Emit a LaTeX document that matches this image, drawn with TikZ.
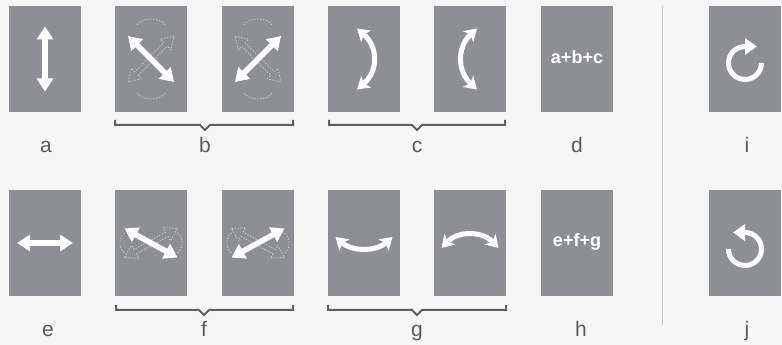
\documentclass[tikz,border=0pt]{standalone}
\usepackage{fontspec}
\setmainfont{Liberation Sans}
\usetikzlibrary{arrows.meta}
\definecolor{bgcol}{RGB}{245,246,245}
\definecolor{panelcol}{RGB}{142,143,147}
\definecolor{labelcol}{RGB}{90,90,90}
\definecolor{bracecol}{RGB}{95,95,95}
\definecolor{ghostcol}{RGB}{210,210,210}
\definecolor{sepcol}{RGB}{205,205,205}
\tikzset{
  panel/.style={fill=panelcol, minimum width=72pt, minimum height=106pt, inner sep=0pt},
  caption/.style={text=labelcol, font=\fontsize{21}{21}\selectfont, anchor=base, inner sep=0pt},
  sumtext/.style={text=white, font=\bfseries\fontsize{18}{18}\selectfont, anchor=base, inner sep=0pt},
  bigarrow/.style={white, line width=5.5pt, arrows={Triangle[width=16pt,length=13pt]-Triangle[width=16pt,length=13pt]}},
  bendarrow/.style={white, line width=5pt, arrows={Stealth[width=15pt,length=12pt,inset=3pt]-Stealth[width=15pt,length=12pt,inset=3pt]}},
  turnarrow/.style={white, line width=5pt, arrows={-Triangle[width=16pt,length=12pt]}},
  ghostline/.style={ghostcol, line width=0.6pt, dash pattern=on 1.5pt off 1.5pt},
  brace/.style={bracecol, line width=2pt},
}
\newcommand{\ghostarrow}[2]{%
  \draw[ghostline,rotate=#1] (-#2,0) -- (-#2+12,7.5) -- (-#2+12,2.5) -- (#2-12,2.5) -- (#2-12,7.5) -- (#2,0)
    -- (#2-12,-7.5) -- (#2-12,-2.5) -- (-#2+12,-2.5) -- (-#2+12,-7.5) -- cycle;}
\begin{document}
\begin{tikzpicture}[x=1pt,y=1pt]
  \useasboundingbox[fill=bgcol] (0,0) rectangle (782,345);

  \node[panel] (pa) at (45,286) {};
  \node[panel] (pb1) at (151,286) {};
  \node[panel] (pb2) at (258,286) {};
  \node[panel] (pc1) at (364,286) {};
  \node[panel] (pc2) at (470,286) {};
  \node[panel] (pd) at (577,286) {};
  \node[panel] (pi) at (745,286) {};
  \node[panel] (pe) at (45,102) {};
  \node[panel] (pf1) at (151,102) {};
  \node[panel] (pf2) at (258,102) {};
  \node[panel] (pg1) at (364,102) {};
  \node[panel] (pg2) at (470,102) {};
  \node[panel] (ph) at (577,102) {};
  \node[panel] (pj) at (745,102) {};

  \begin{scope}[shift={(pa)}]
    \draw[bigarrow] (0,32.5) -- (0,-32.5);
  \end{scope}
  \begin{scope}[shift={(pb1)}]
    \ghostarrow{45}{32.5}
    \draw[ghostline] (-14,34) arc[start angle=165, end angle=15, x radius=14.5, y radius=8];
    \draw[ghostline] (-14,-34) arc[start angle=195, end angle=345, x radius=14.5, y radius=8];
    \draw[bigarrow] (-23,23) -- (23,-23);
  \end{scope}
  \begin{scope}[shift={(pb2)}]
    \ghostarrow{-45}{32.5}
    \draw[ghostline] (-14,34) arc[start angle=165, end angle=15, x radius=14.5, y radius=8];
    \draw[ghostline] (-14,-34) arc[start angle=195, end angle=345, x radius=14.5, y radius=8];
    \draw[bigarrow] (-23,-23) -- (23,23);
  \end{scope}
  \begin{scope}[shift={(pc1)}]
    \draw[bendarrow] (-7,30.5) .. controls (14.5,12) and (14.5,-12) .. (-7,-30.5);
  \end{scope}
  \begin{scope}[shift={(pc2)}]
    \draw[bendarrow] (7,30.5) .. controls (-13,12) and (-13,-12) .. (7,-30.5);
  \end{scope}
  \node[sumtext] (sumd) at ([yshift=-5pt]pd.center) {a+b+c};
  \begin{scope}[shift={(pi)}]
    \draw[turnarrow] (16.5,-4) arc[start angle=0, end angle=-270, radius=16.5] -- ++(12,0);
  \end{scope}

  \begin{scope}[shift={(pe)}]
    \draw[bigarrow] (-28,0) -- (28,0);
  \end{scope}
  \begin{scope}[shift={(pf1)}]
    \ghostarrow{28.7}{30.2}
    \draw[ghostline] (-26.5,10) arc[start angle=115, end angle=245, x radius=8, y radius=11];
    \draw[ghostline] (26.5,-10) arc[start angle=-65, end angle=65, x radius=8, y radius=11];
    \draw[bigarrow] (-26.5,14.5) -- (26.5,-14.5);
  \end{scope}
  \begin{scope}[shift={(pf2)}]
    \ghostarrow{-28.7}{30.2}
    \draw[ghostline] (-26.5,10) arc[start angle=115, end angle=245, x radius=8, y radius=11];
    \draw[ghostline] (26.5,-10) arc[start angle=-65, end angle=65, x radius=8, y radius=11];
    \draw[bigarrow] (-26.5,-14.5) -- (26.5,14.5);
  \end{scope}
  \begin{scope}[shift={(pg1)}]
    \draw[bendarrow] (-28.5,6) .. controls (-12,-8.7) and (12,-8.7) .. (28.5,6);
  \end{scope}
  \begin{scope}[shift={(pg2)}]
    \draw[bendarrow] (-28.5,-5) .. controls (-12,12.3) and (12,12.3) .. (28.5,-5);
  \end{scope}
  \node[sumtext] (sumh) at ([yshift=-4pt]ph.center) {e+f+g};
  \begin{scope}[shift={(pj)}]
    \draw[turnarrow] (-16.5,-6) arc[start angle=180, end angle=450, radius=16.5] -- ++(-12,0);
  \end{scope}

  \draw[brace] (115,225) -- (115,220) -- (200,220) -- (205,215) -- (210,220) -- (293,220) -- (293,225);
  \draw[brace] (329,225) -- (329,220) -- (412,220) -- (417,215) -- (422,220) -- (505,220) -- (505,225);
  \draw[brace] (116,40) -- (116,35) -- (199,35) -- (204,30) -- (209,35) -- (293,35) -- (293,40);
  \draw[brace] (328,40) -- (328,35) -- (412,35) -- (417,30) -- (422,35) -- (506,35) -- (506,40);
  \draw[sepcol, line width=0.8pt] (662,339) -- (662,20);

  \node[caption] (la) at (46,192) {a};
  \node[caption] (lb) at (205,192) {b};
  \node[caption] (lc) at (417,192) {c};
  \node[caption] (ld) at (577,192) {d};
  \node[caption] (li) at (747,192) {i};
  \node[caption] (le) at (48,8) {e};
  \node[caption] (lf) at (204,8) {f};
  \node[caption] (lg) at (417,8) {g};
  \node[caption] (lh) at (581,8) {h};
  \node[caption] (lj) at (747,8) {j};
\end{tikzpicture}
\end{document}
